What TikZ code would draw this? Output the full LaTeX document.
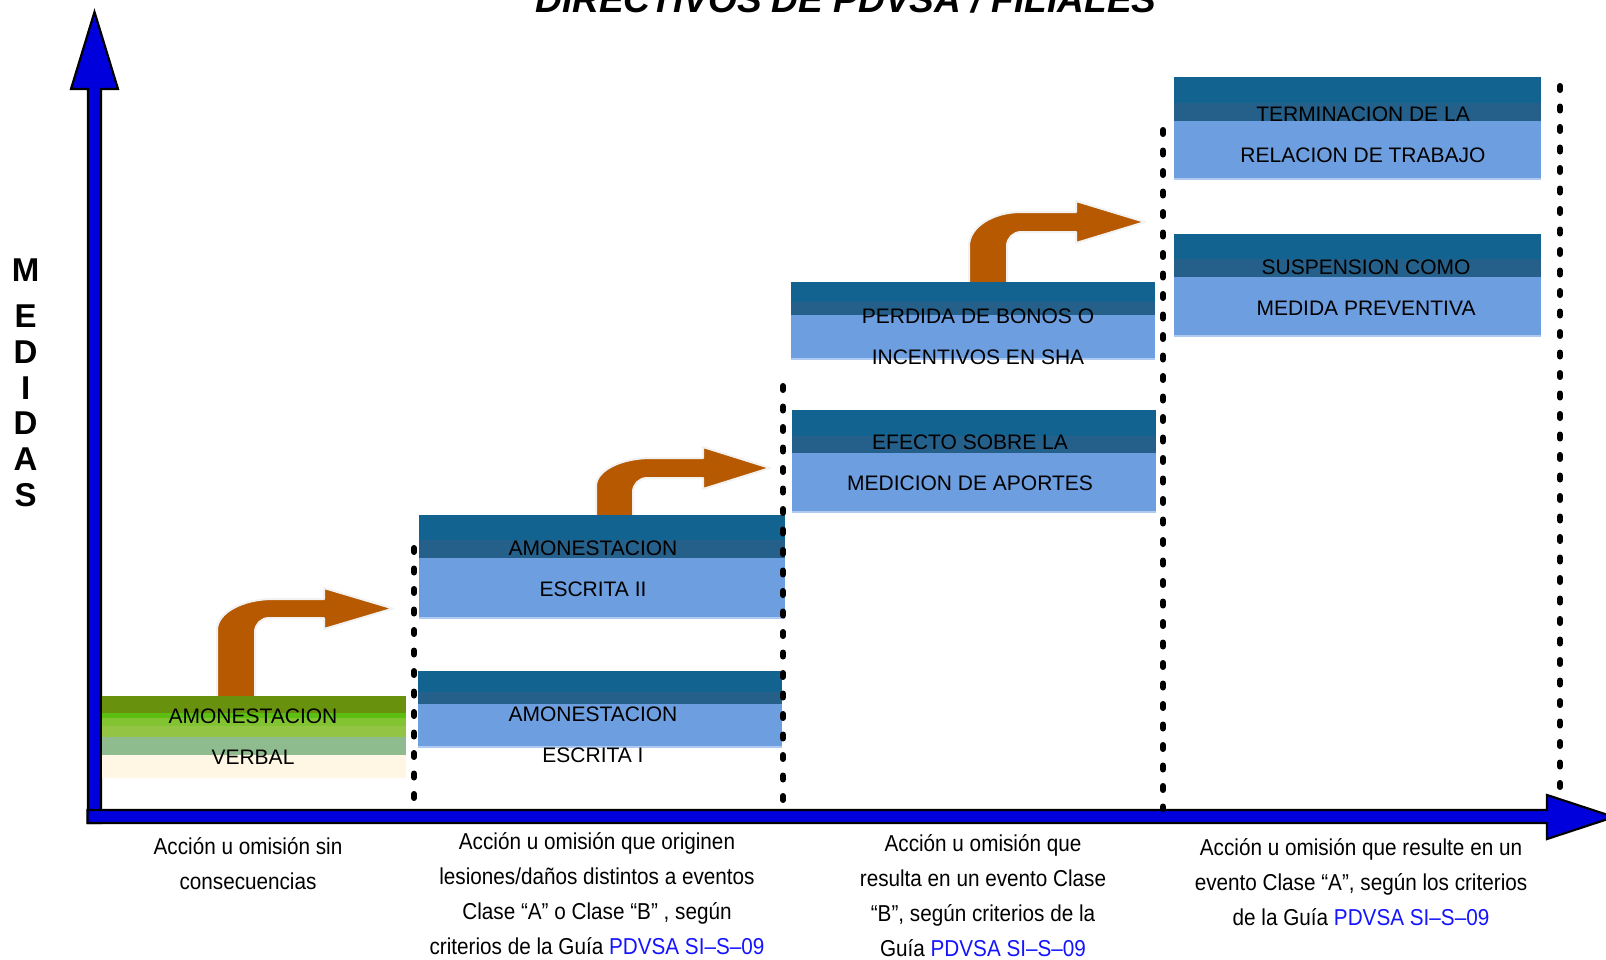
\documentclass[tikz,border=0pt]{standalone}
\usepackage{fontspec}
\setmainfont{Liberation Sans}
\newfontfamily\narrowfont[FakeStretch=0.9]{Liberation Sans}
\definecolor{axisblue}{RGB}{0,0,220}
\definecolor{arrowbrown}{RGB}{182,89,0}
\definecolor{arrowedge}{RGB}{242,242,242}
\definecolor{bdark}{RGB}{18,99,143}
\definecolor{bmid}{RGB}{36,96,138}
\definecolor{blight}{RGB}{108,158,224}
\definecolor{bedge}{RGB}{175,202,240}
\definecolor{gA}{RGB}{104,145,14}
\definecolor{gB}{RGB}{92,190,16}
\definecolor{gC}{RGB}{130,195,50}
\definecolor{gD}{RGB}{147,196,68}
\definecolor{gE}{RGB}{143,188,143}
\definecolor{gF}{RGB}{255,246,227}
\definecolor{linkblue}{RGB}{20,20,255}
\newcommand\mybluebox[6]{%
  \fill[bdark] (#1,#3) rectangle (#2,#4);
  \fill[bmid] (#1,#4) rectangle (#2,#5);
  \fill[blight] (#1,#5) rectangle (#2,#6);
  \draw[bedge,line width=0.8pt] (#1,#6) -- (#2,#6);}
\newcommand\bentarrow[9]{%
  \filldraw[brownarrow] (#1,#3) -- (#1,{#4+#9})
    .. controls (#1,{#4+0.448*#9}) and ({#1+0.448*#8},#4) .. ({#1+#8},#4)
    -- (#6,#4) -- (#6,{#4-11}) -- (#7,{(#4+#5)/2}) -- (#6,{#5+11}) -- (#6,#5)
    -- ({#2+14},#5) .. controls ({#2+6.3},#5) and (#2,{#5+6.3}) .. (#2,{#5+14})
    -- (#2,#3) -- cycle;}
\begin{document}
\begin{tikzpicture}[x=0.5pt,y=-0.5pt,
  boxtext/.style={font=\fontsize{10.5}{20.25}\selectfont, align=center, inner sep=0pt, anchor=base, text=black},
  axisfill/.style={fill=axisblue, draw=black, line width=1.1pt, line join=miter},
  brownarrow/.style={fill=arrowbrown, draw=arrowedge, line width=1pt, line join=round},
  dotline/.style={line width=3pt, line cap=round, dash pattern=on 2pt off 8.25pt, black},
  bottomtext/.style={font=\narrowfont\fontsize{11.5}{17.4}\selectfont, align=center, inner sep=0pt, anchor=base},
  medidas/.style={font=\fontsize{16.5}{18}\selectfont\bfseries, inner sep=0pt, anchor=base},
  titletext/.style={font=\fontsize{18.5}{22}\selectfont\bfseries\itshape, inner sep=0pt, anchor=base}]
\useasboundingbox (0,0) rectangle (1606,959);

% title (partly cut at top)
\node[titletext] (title) at (846,12) {DIRECTIVOS DE PDVSA / FILIALES};

% axes
\filldraw[axisfill] (88,823) -- (88,89) -- (71,89) -- (94.5,12) -- (118,89) -- (101,89) -- (101,823) -- cycle;
\filldraw[axisfill] (87.5,810) -- (1547,810) -- (1547,795) -- (1614,817) -- (1547,839) -- (1547,823) -- (87.5,823) -- cycle;

% MEDIDAS
\node[medidas] (m1) at (25.6,281) {M};
\node[medidas] (m2) at (25.6,327) {E};
\node[medidas] (m3) at (25.6,363) {D};
\node[medidas] (m4) at (25.6,399) {I};
\node[medidas] (m5) at (25.6,434) {D};
\node[medidas] (m6) at (25.6,470) {A};
\node[medidas] (m7) at (25.6,506) {S};

% bent arrows
\bentarrow{217}{255}{700}{599}{618}{324}{393}{56}{31}
\bentarrow{596}{633}{519}{458}{478}{703}{770}{55}{28}
\bentarrow{969}{1007}{286}{212}{232}{1076}{1145}{52}{34}

% green box
\fill[gA] (102,696) rectangle (406,713);
\fill[gB] (102,713) rectangle (406,718);
\fill[gC] (102,718) rectangle (406,726);
\fill[gD] (102,726) rectangle (406,737);
\fill[gE] (102,737) rectangle (406,755);
\fill[gF] (102,755) rectangle (406,778);

% blue boxes
\mybluebox{418}{782}{671}{692}{704}{747}
\mybluebox{419}{785}{515}{540}{558}{618}
\mybluebox{791}{1155}{282}{302}{315}{359}
\mybluebox{792}{1156}{410}{436}{453}{512}
\mybluebox{1174}{1541}{77}{103}{121}{179}
\mybluebox{1174}{1541}{234}{259}{277}{336}

% dotted separators
\coordinate (d1t) at (414,548); \coordinate (d1b) at (414,805);
\coordinate (d2t) at (783,386); \coordinate (d2b) at (783,800);
\coordinate (d3t) at (1163,130); \coordinate (d3b) at (1163,809);
\coordinate (d4t) at (1560,86); \coordinate (d4b) at (1560,790);
\draw[dotline] (d1t) -- (d1b);
\draw[dotline] (d2t) -- (d2b);
\draw[dotline] (d3t) -- (d3b);
\draw[dotline] (d4t) -- (d4b);

% box texts (anchor = baseline of last line)
\node[boxtext] (tV) at (253,764) {AMONESTACION\\VERBAL};
\node[boxtext] (tE1) at (593,762) {AMONESTACION\\ESCRITA I};
\node[boxtext] (tE2) at (593,596) {AMONESTACION\\ESCRITA II};
\node[boxtext] (tP) at (978,364) {PERDIDA DE BONOS O\\INCENTIVOS EN SHA};
\node[boxtext] (tEf) at (970,490) {EFECTO SOBRE LA\\MEDICION DE APORTES};
\node[boxtext] (tT) at (1363,162) {TERMINACION DE LA\\RELACION DE TRABAJO};
\node[boxtext] (tS) at (1366,315) {SUSPENSION COMO\\MEDIDA PREVENTIVA};

% bottom texts (anchor = baseline of last line)
\node[bottomtext] (b1) at (248,889) {Acción u omisión sin\\consecuencias};
\node[bottomtext] (b2) at (597,954) {Acción u omisión que originen\\lesiones/daños distintos a eventos\\Clase “A” o Clase “B” , según\\criterios de la Guía \textcolor{linkblue}{PDVSA SI–S–09}};
\node[bottomtext] (b3) at (983,956) {Acción u omisión que\\resulta en un evento Clase\\“B”, según criterios de la\\Guía \textcolor{linkblue}{PDVSA SI–S–09}};
\node[bottomtext] (b4) at (1361,925) {Acción u omisión que resulte en un\\evento Clase “A”, según los criterios\\de la Guía \textcolor{linkblue}{PDVSA SI–S–09}};
\end{tikzpicture}
\end{document}
